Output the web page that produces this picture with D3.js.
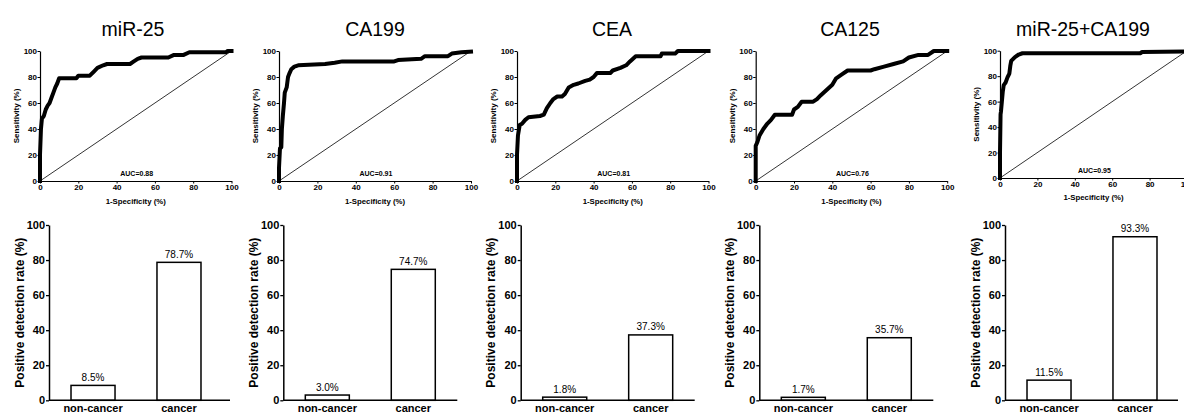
<!DOCTYPE html>
<html>
<head>
<meta charset="utf-8">
<script src="https://cdn.jsdelivr.net/npm/d3@7"></script>
<style>
  body { margin: 0; background: #fff; }
  svg { display: block; font-family: "Liberation Sans", Arial, sans-serif; }
</style>
</head>
<body>
<div id="chart"></div>
<script>
// ---------- data ----------
var panelNames = ["miR-25", "CA199", "CEA", "CA125", "miR-25+CA199"];
var aucValues = ["0.88", "0.91", "0.81", "0.76", "0.95"];
var rocTicks = [0, 20, 40, 60, 80, 100];

// ROC points: [1-specificity %, sensitivity %]
var rocMir25 = [[0,0],[0,20],[0.5,40],[1,48],[2,50],[3,55],[4,58],[5,60],[6,64],[7,68],[8,72],[9,75],[10,79],
  [19,79],[20,81],[26,81],[28,84],[30,87],[33,89],[35,90],[47,90],[49,92],[51,94],[53,95],[67,95],[70,97],
  [75,97],[78,99],[85,99],[97,99],[98,100],[100,100]];
var rocCa199 = [[0,0],[0,10],[0.5,25],[1.2,26],[1.5,40],[2,50],[2.6,60],[3,68],[4,72],[4.7,80],[5.5,83],
  [6.4,86],[8,88],[10,89],[24,90],[29,91],[33,92],[60,92],[62,93],[74,94],[76,96],[88,96],[90,98],[95,99],[100,99.5]];
var rocCea = [[0,0],[0,20],[0.5,35],[1.4,43],[2.6,44],[4.3,47],[6,49],[12,50],[14,51],[15.6,56],[17.4,60],
  [19,63],[21,65],[23.5,65],[25,67],[27,72],[29.6,74],[32,75],[35.6,77],[38,78],[40,80],[41.7,83],[48.7,83],
  [50,85],[54,87],[57,89],[59,92],[62,96],[75,96],[75.6,98],[82.6,98],[84,100],[100,100]];
var rocCa125 = [[0,0],[0,27],[0.9,30],[2,35],[4,40],[6,44],[8,47],[10,51],[19,51],[20,55],[22,57],[24,61],
  [30,61],[32,63],[34,66],[37,70],[40,74],[42,79],[45,82],[48,85],[60,85],[62,86],[67,88],[72,90],[77,92],
  [80,95],[85,97],[90,97],[93,100],[100,100]];
var rocCombo = [[0,0],[0,20],[0.3,50],[0.5,52],[1,60],[1.5,68],[2,73],[3,75],[4,79],[5,82],[5.5,88],[6,92],
  [8,95],[10,97],[12,98],[75,98],[76,99],[100,99.5]];
var rocCurves = [rocMir25, rocCa199, rocCea, rocCa125, rocCombo];

var barCategories = ["non-cancer", "cancer"];
var nonCancerRates = [8.5, 3.0, 1.8, 1.7, 11.5];
var cancerRates = [78.7, 74.7, 37.3, 35.7, 93.3];
var barTicks = [0, 20, 40, 60, 80, 100];

// ---------- layout ----------
var rocLayout = [
  {x0: 40,    w: 191.5, top: 51,   bottom: 181, title: 133},
  {x0: 279,   w: 192,   top: 51,   bottom: 181, title: 375},
  {x0: 517,   w: 191.5, top: 51,   bottom: 181, title: 612},
  {x0: 755.7, w: 191.5, top: 51,   bottom: 181, title: 850},
  {x0: 1000,  w: 187,   top: 50.7, bottom: 178, title: 1083}
];
var barLayout = [
  {x0: 49,    len: 181},
  {x0: 283.3, len: 174},
  {x0: 520.7, len: 174},
  {x0: 759.3, len: 174},
  {x0: 1005,  len: 173}
];

var svg = d3.select("#chart").append("svg")
  .attr("width", 1184)
  .attr("height", 414);

function styleAxis(ax, size) {
  ax.selectAll("text")
    .style("font-size", size + "px")
    .style("font-weight", "bold")
    .attr("fill", "#000");
  ax.selectAll("line").attr("stroke", "#000");
  ax.select(".domain").attr("stroke", "#000");
}

// ---------- ROC panels ----------
function drawRoc(i) {
  var L = rocLayout[i];
  var x = d3.scaleLinear().domain([0, 100]).range([L.x0, L.x0 + L.w]);
  var y = d3.scaleLinear().domain([0, 100]).range([L.bottom, L.top]);
  var g = svg.append("g");

  g.append("text")
    .attr("x", L.title)
    .attr("y", 35.5)
    .attr("text-anchor", "middle")
    .style("font-size", "19.5px")
    .text(panelNames[i]);

  var xAx = g.append("g")
    .attr("transform", "translate(0," + L.bottom + ")")
    .call(d3.axisBottom(x).tickValues(rocTicks).tickSize(2.5).tickSizeOuter(0).tickPadding(0.5));
  styleAxis(xAx, 8);
  xAx.select(".domain").attr("stroke-width", 1.2);

  var yAx = g.append("g")
    .attr("transform", "translate(" + L.x0 + ",0)")
    .call(d3.axisLeft(y).tickValues(rocTicks).tickSize(2.5).tickSizeOuter(0).tickPadding(0.5));
  styleAxis(yAx, 8);
  yAx.select(".domain").attr("stroke-width", 1.2);
  yAx.selectAll("text").attr("dy", "0.34em");

  // reference diagonal
  g.append("line")
    .attr("x1", x(0)).attr("y1", y(0))
    .attr("x2", x(100)).attr("y2", y(100))
    .attr("stroke", "#000")
    .attr("stroke-width", 0.8);

  // ROC curve
  g.append("path")
    .datum(rocCurves[i])
    .attr("d", d3.line().x(function(d) { return x(d[0]); }).y(function(d) { return y(d[1]); }))
    .attr("fill", "none")
    .attr("stroke", "#000")
    .attr("stroke-width", 4)
    .attr("stroke-linejoin", "round")
    .attr("stroke-linecap", "square");

  g.append("text")
    .attr("x", x(50.5))
    .attr("y", y(0) - 5.5)
    .attr("text-anchor", "middle")
    .style("font-size", "7px")
    .style("font-weight", "bold")
    .text("AUC=" + aucValues[i]);

  g.append("text")
    .attr("x", x(50))
    .attr("y", L.bottom + (i == 4 ? 21.5 : 23))
    .attr("text-anchor", "middle")
    .style("font-size", "7.8px")
    .style("font-weight", "bold")
    .text("1-Specificity (%)");

  g.append("text")
    .attr("transform", "translate(" + (L.x0 - 23.5) + "," + y(50) + ") rotate(-90)")
    .attr("text-anchor", "middle")
    .attr("dy", "0.35em")
    .style("font-size", "8px")
    .style("font-weight", "bold")
    .text("Sensitivity (%)");
}

// ---------- bar panels ----------
function drawBars(i) {
  var L = barLayout[i];
  var rates = [nonCancerRates[i], cancerRates[i]];
  var x = d3.scaleBand()
    .domain(barCategories)
    .range([L.x0, L.x0 + 174])
    .paddingInner(0.488)
    .paddingOuter(0.256);
  var y = d3.scaleLinear().domain([0, 100]).range([400.3, 225]);
  var g = svg.append("g");

  g.selectAll("rect")
    .data(rates)
    .enter().append("rect")
    .attr("x", function(d, j) { return x(barCategories[j]); })
    .attr("y", function(d) { return y(d); })
    .attr("width", x.bandwidth())
    .attr("height", function(d) { return y(0) - y(d); })
    .attr("fill", "#fff")
    .attr("stroke", "#000")
    .attr("stroke-width", 1.5);

  g.selectAll(".val")
    .data(rates)
    .enter().append("text")
    .attr("class", "val")
    .attr("x", function(d, j) { return x(barCategories[j]) + x.bandwidth() / 2; })
    .attr("y", function(d) { return y(d) - 4.5; })
    .attr("text-anchor", "middle")
    .style("font-size", "10px")
    .text(function(d) { return d.toFixed(1) + "%"; });

  var xAx = g.append("g")
    .attr("transform", "translate(0," + y(0) + ")")
    .call(d3.axisBottom(x).tickSize(0).tickPadding(3.5));
  styleAxis(xAx, 11);
  xAx.select(".domain").remove();
  g.append("line")
    .attr("x1", L.x0).attr("x2", L.x0 + L.len)
    .attr("y1", y(0)).attr("y2", y(0))
    .attr("stroke", "#000")
    .attr("stroke-width", 1.5);

  var yAx = g.append("g")
    .attr("transform", "translate(" + L.x0 + ",0)")
    .call(d3.axisLeft(y).tickValues(barTicks).tickSize(3).tickSizeOuter(0).tickPadding(1));
  styleAxis(yAx, 11);
  yAx.select(".domain").attr("stroke-width", 1.5);
  yAx.selectAll("line").attr("stroke-width", 1.3);

  g.append("text")
    .attr("transform", "translate(" + (L.x0 - 29.5) + "," + y(50) + ") rotate(-90)")
    .attr("text-anchor", "middle")
    .attr("dy", "0.35em")
    .style("font-size", "12px")
    .style("font-weight", "bold")
    .text("Positive detection rate (%)");
}

for (var i = 0; i < panelNames.length; i++) {
  drawRoc(i);
  drawBars(i);
}
</script>
</body>
</html>
